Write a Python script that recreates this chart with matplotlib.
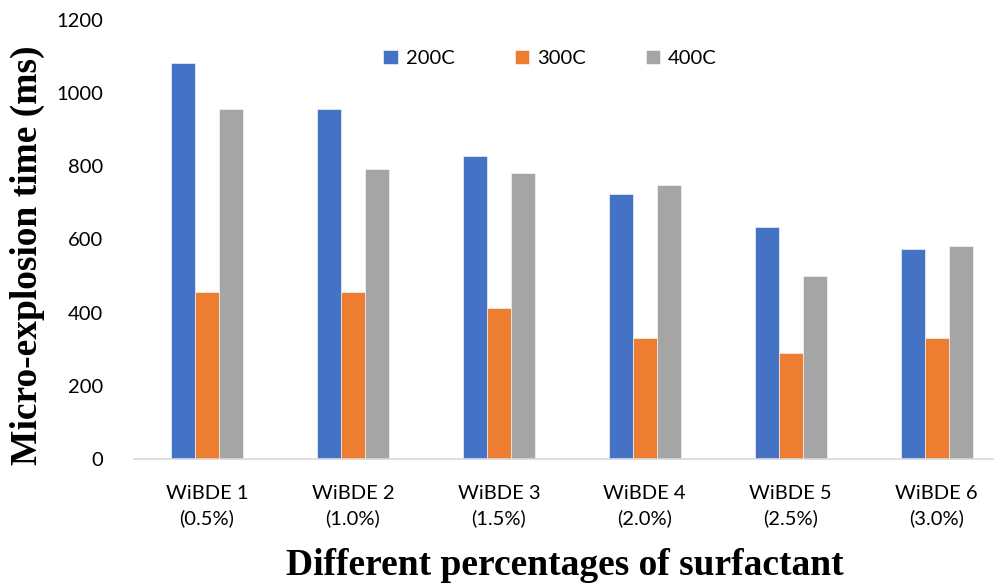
import matplotlib.pyplot as plt
import numpy as np

# data
categories = ["WiBDE 1\n(0.5%)", "WiBDE 2\n(1.0%)", "WiBDE 3\n(1.5%)",
              "WiBDE 4\n(2.0%)", "WiBDE 5\n(2.5%)", "WiBDE 6\n(3.0%)"]
series_names = ["200C", "300C", "400C"]
t200 = [1082, 958, 828, 723, 633, 574]
t300 = [456, 456, 414, 332, 290, 332]
t400 = [958, 792, 781, 750, 499, 582]
colors = ["#4472C4", "#ED7D31", "#A5A5A5"]

fig = plt.figure(figsize=(9.95, 5.86), dpi=100)
ax = fig.add_axes([0.1347, 0.2167, 0.880, 0.7492])

x = np.arange(len(categories))
w = 0.165
for i, (vals, name) in enumerate(zip([t200, t300, t400], series_names)):
    ax.bar(x + (i - 1) * w, vals, width=w, color=colors[i], label=name,
           edgecolor="white", linewidth=0.4)

ax.set_xlim(-0.5, 5.5)
ax.set_ylim(0, 1200)
ax.set_yticks(range(0, 1201, 200))
ax.set_xticks(x)
ax.set_xticklabels(categories, fontsize=14.5, family="Lato", linespacing=1.45)
for lab in ax.get_yticklabels():
    lab.set_family("Lato")
    lab.set_fontsize(14.5)
ax.tick_params(axis="both", length=0)
ax.tick_params(axis="y", pad=22)
ax.tick_params(axis="x", pad=19)

for s in ["left", "right", "top"]:
    ax.spines[s].set_visible(False)
ax.spines["bottom"].set_color("#D9D9D9")
ax.spines["bottom"].set_linewidth(1.2)

fig.text(0.028, 0.565, "Micro-explosion time (ms)", rotation=90, ha="center", va="center",
         fontsize=27, fontweight="bold", family="Liberation Serif")
fig.text(0.568, 0.035, "Different percentages of surfactant", ha="center", va="center",
         fontsize=27, fontweight="bold", family="Liberation Serif")

ax.legend(loc="center", bbox_to_anchor=(0.553, 0.900), bbox_transform=fig.transFigure,
          ncol=3, frameon=False, handlelength=0.7, handleheight=0.7,
          columnspacing=3.0, handletextpad=0.4, prop={"family": "Lato", "size": 14.5})

fig.savefig("out.png", dpi=100)
